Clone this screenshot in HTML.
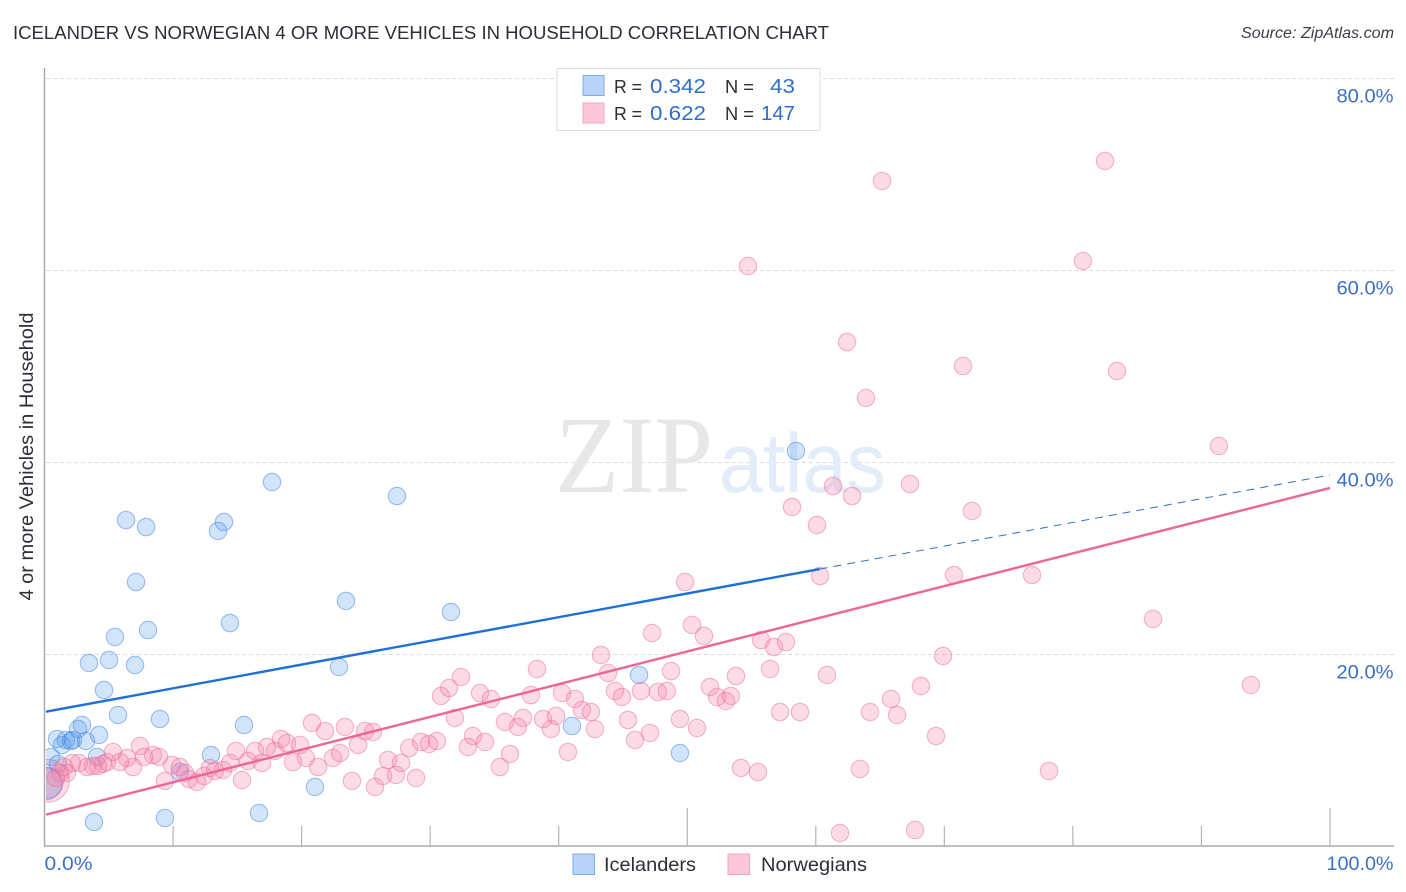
<!DOCTYPE html>
<html lang="en">
<head>
<meta charset="utf-8">
<title>Icelander vs Norwegian 4 or more vehicles in household correlation chart</title>
<style>
html,body{margin:0;padding:0;background:#fff;}
svg{display:block;}
text{font-family:"Liberation Sans",sans-serif;}
</style>
</head>
<body>
<svg id="chart" xmlns="http://www.w3.org/2000/svg" width="1406" height="892" viewBox="0 0 1406 892">
  <defs>
    <clipPath id="plot-clip"><rect x="46" y="60" width="1340" height="786"></rect></clipPath>
  </defs>
  <rect x="0" y="0" width="1406" height="892" fill="#ffffff"></rect>
  <text x="13" y="39" font-size="18.5" fill="#2b2f36" textLength="816" lengthAdjust="spacingAndGlyphs">ICELANDER VS NORWEGIAN 4 OR MORE VEHICLES IN HOUSEHOLD CORRELATION CHART</text>
  <text x="1394" y="38" font-size="15.5" font-style="italic" fill="#3a3f46" text-anchor="end" textLength="153" lengthAdjust="spacingAndGlyphs">Source: ZipAtlas.com</text>
  <g id="grid"></g>
  <text x="555" y="492" font-size="110" fill="#e7e7e7" textLength="158" lengthAdjust="spacingAndGlyphs" style="font-family:'Liberation Serif',serif">ZIP</text>
  <text x="719" y="492" font-size="84" fill="#e3ecf9" textLength="167" lengthAdjust="spacingAndGlyphs">atlas</text>
  <g id="points" clip-path="url(#plot-clip)"></g>
  <g id="trends"></g>
  <g id="axes"></g>
  <text transform="translate(33,456.5) rotate(-90)" font-size="19" fill="#2b2f36" text-anchor="middle" textLength="288" lengthAdjust="spacingAndGlyphs">4 or more Vehicles in Household</text>

  <g>
    <rect x="557" y="68.5" width="263" height="62" fill="#ffffff" stroke="#dcdcdc" stroke-width="1"></rect>
    <rect x="583" y="75.5" width="21" height="20" fill="#b9d3f8" stroke="#7fabe6" stroke-width="1"></rect>
    <rect x="583" y="103" width="21" height="20" fill="#fcc8d9" stroke="#f3a5bf" stroke-width="1"></rect>
    <text x="614" y="93" font-size="18.5" fill="#2b2f36" textLength="28" lengthAdjust="spacingAndGlyphs">R =</text>
    <text x="650" y="93" font-size="20" fill="#2f6fca" textLength="56" lengthAdjust="spacingAndGlyphs">0.342</text>
    <text x="725" y="93" font-size="18.5" fill="#2b2f36" textLength="29" lengthAdjust="spacingAndGlyphs">N =</text>
    <text x="795" y="93" font-size="20" fill="#2f6fca" text-anchor="end" textLength="25" lengthAdjust="spacingAndGlyphs">43</text>
    <text x="614" y="120" font-size="18.5" fill="#2b2f36" textLength="28" lengthAdjust="spacingAndGlyphs">R =</text>
    <text x="650" y="120" font-size="20" fill="#2f6fca" textLength="56" lengthAdjust="spacingAndGlyphs">0.622</text>
    <text x="725" y="120" font-size="18.5" fill="#2b2f36" textLength="29" lengthAdjust="spacingAndGlyphs">N =</text>
    <text x="795" y="120" font-size="20" fill="#2f6fca" text-anchor="end" textLength="34" lengthAdjust="spacingAndGlyphs">147</text>
  </g>

  <g>
    <rect x="573" y="854" width="21.5" height="20.5" fill="#b9d3f8" stroke="#7fabe6" stroke-width="1"></rect>
    <text x="604" y="871" font-size="19.5" fill="#2b2f36" textLength="92" lengthAdjust="spacingAndGlyphs">Icelanders</text>
    <rect x="728" y="854" width="21.5" height="20.5" fill="#fcc8d9" stroke="#f3a5bf" stroke-width="1"></rect>
    <text x="761" y="871" font-size="19.5" fill="#2b2f36" textLength="106" lengthAdjust="spacingAndGlyphs">Norwegians</text>
  </g>
</svg>
<script>
// Values (percent)
const icelanderX = [0.97,0.5,1.05,1.36,1.67,2.22,2.06,2.61,2.92,3.23,4.24,4.08,3.85,4.63,3.46,5.02,5.48,7.04,8.05,7.12,7.9,6.34,5.72,8.98,9.37,10.54,12.95,13.5,13.96,14.43,15.52,16.69,17.7,21.04,22.91,23.45,27.42,31.62,41.03,46.25,49.43,58.46];
const icelanderY = [11.25,9.38,8.65,10.63,11.15,11.15,11.04,12.29,12.71,11.04,11.67,9.38,2.6,16.35,19.17,19.48,21.88,18.96,22.6,27.6,33.33,34.06,13.75,13.33,3.02,7.81,9.58,32.92,33.85,23.33,12.71,3.54,38.02,6.25,18.75,25.63,36.56,24.48,12.6,17.92,9.79,41.25];
const norwegianX = [5.33,7.43,8.44,8.91,7.74,6.88,6.42,5.87,4.86,4.55,4.16,3.77,3.31,2.68,2.14,1.75,1.21,0.89,1.52,9.92,10.54,9.37,10.93,11.24,11.86,12.41,12.87,13.26,13.89,14.43,14.9,15.36,15.83,16.38,16.92,17.31,17.93,18.4,18.86,19.88,19.33,20.34,21.28,20.81,21.82,23.37,22.44,22.99,23.92,24.93,25.55,24.39,25.71,26.72,27.73,26.33,27.34,28.9,28.36,29.29,29.91,30.53,30.84,31.47,32.4,31.93,33.33,32.94,34.27,33.88,34.73,35.82,36.83,37.22,36.21,35.43,37.84,38.31,38.78,39.4,39.79,40.72,40.26,41.27,41.81,42.51,42.82,43.29,43.84,44.38,44.92,46.4,45.39,45.94,47.1,47.72,48.42,48.74,47.26,49.43,50.76,49.83,50.37,51.3,51.77,52.32,53.01,53.4,53.79,54.18,55.5,55.74,56.44,56.75,57.22,57.68,58.77,54.72,58.15,60.09,60.33,60.87,61.34,61.88,62.43,62.82,63.44,63.9,64.22,65.15,65.85,66.32,67.33,67.72,68.18,69.35,69.9,70.75,71.45,72.15,76.82,78.14,80.78,82.5,83.43,86.23,91.36,93.85];
const norwegianY = [9.9,10.52,9.58,9.38,9.38,8.33,9.27,8.85,8.85,8.65,8.44,8.44,8.33,8.75,8.75,7.71,7.71,7.19,8.33,8.54,8.33,6.88,7.71,7.08,6.77,7.4,8.23,7.92,8.02,8.75,10,6.98,8.96,10,8.75,10.42,10,11.25,10.83,10.63,8.85,9.27,8.33,12.92,12.08,12.5,9.27,9.79,6.88,12.08,11.98,10.63,6.25,9.06,8.75,7.4,7.5,7.19,10.31,10.94,10.73,11.04,15.73,16.56,17.71,13.44,11.56,10.42,10.94,16.04,15.42,13.02,12.5,13.44,9.69,8.33,15.83,18.54,13.33,12.29,13.65,9.9,16.04,15.42,14.27,14.06,12.29,20,18.13,16.25,15.63,16.25,13.23,11.15,11.88,16.15,16.25,18.33,22.29,13.33,12.4,27.6,23.13,21.98,16.67,15.63,15.21,15.73,17.81,8.23,7.81,21.56,18.54,20.83,14.06,21.35,14.06,60.52,35.42,33.54,28.23,17.92,37.6,1.46,52.6,36.56,8.13,46.77,14.06,69.38,15.42,13.75,37.81,1.77,16.77,11.56,19.9,28.33,50.1,35,28.33,7.92,61.04,71.46,49.58,23.75,41.77,16.88];
// Aggregated clusters near the origin: x, y and number of merged observations
const icelanderClusterX = [0.1];
const icelanderClusterY = [6.6];
const icelanderClusterCount = [3.4];
const norwegianClusterX = [0.28, 0.28];
const norwegianClusterY = [6.9, 6.7];
const norwegianClusterCount = [6, 3];
// Trend line values
const icelanderTrendX = [0, 60.3, 100];
const icelanderTrendY = [14.06, 28.95, 38.75];
const norwegianTrendX = [0, 100];
const norwegianTrendY = [3.33, 37.4];
// Ticks
const yTickValues = [20, 40, 60, 80];
const yTickLabels = ["20.0%", "40.0%", "60.0%", "80.0%"];
const xTickValues = [10, 20, 30, 40, 50, 60, 70, 80, 90, 100];
const xMajorTicks = [50, 100];
const xEndValues = [0, 100];
const xEndLabels = ["0.0%", "100.0%"];

const SVG_NS = "http://www.w3.org/2000/svg";
function xScale(v) { return 44.5 + v * 12.855; }
function yScale(v) { return 847 - v * 9.6; }
function radiusOf(count) { return 8.7 * Math.sqrt(count); }
function make(tag, parent, attrs) {
  const el = document.createElementNS(SVG_NS, tag);
  for (const k in attrs) el.setAttribute(k, attrs[k]);
  parent.appendChild(el);
  return el;
}

const gridG = document.getElementById("grid");
const axesG = document.getElementById("axes");
const pointsG = document.getElementById("points");
const trendsG = document.getElementById("trends");

yTickValues.forEach(function (v, i) {
  const line = make("line", gridG, { x1: 46, x2: 1394, y1: yScale(v) - 0.5, y2: yScale(v) - 0.5, stroke: "#dcdcdc", "stroke-width": 1, "stroke-dasharray": "4 3" });
  
  
  const label = make("text", axesG, { x: 1393.5, y: yScale(v) + 23.5, "font-size": 19.5, fill: "#3b6fc9", "text-anchor": "end", textLength: 57, lengthAdjust: "spacingAndGlyphs" });
  label.textContent = yTickLabels[i];
  
  
});

const yAxisLine = make("line", axesG, { x1: 44.5, x2: 44.5, y1: 68, y2: 846.5, stroke: "#aaaaaa", "stroke-width": 1.5 });


const xAxisLine = make("line", axesG, { x1: 44, x2: 1394, y1: 846, y2: 846, stroke: "#aaaaaa", "stroke-width": 1.5 });



xTickValues.forEach(function (v) {
  const major = xMajorTicks.indexOf(v) >= 0;
  const tick = make("line", axesG, { x1: xScale(v), x2: xScale(v), y1: major ? 808 : 826, y2: 846, stroke: "#b4b4b4", "stroke-width": 1.2 });
  
  
});

xEndValues.forEach(function (v, i) {
  const first = i === 0;
  const label = make("text", axesG, {
    x: first ? xScale(v) : 1393.5, y: 870, "font-size": 19.5, fill: "#3b6fc9",
    "text-anchor": first ? "start" : "end", textLength: first ? 48 : 67, lengthAdjust: "spacingAndGlyphs"
  });
  label.textContent = xEndLabels[i];
  
  
});

function drawSeries(xs, ys, counts, fill, fillOpacity, stroke, name) {
  xs.forEach(function (x, i) {
    const c = make("circle", pointsG, {
      cx: xScale(x), cy: yScale(ys[i]), r: radiusOf(counts ? counts[i] : 1),
      fill: fill, "fill-opacity": fillOpacity, stroke: stroke, "stroke-opacity": 0.5, "stroke-width": 1.1
    });
    
    
  });
}
drawSeries(norwegianClusterX, norwegianClusterY, norwegianClusterCount, "#f77fa6", 0.28, "#ea6f98", "norwegian-cluster-point");
drawSeries(icelanderClusterX, icelanderClusterY, icelanderClusterCount, "#4d94ec", 0.25, "#3f86e2", "icelander-cluster-point");
drawSeries(icelanderX, icelanderY, null, "#4d94ec", 0.25, "#3f86e2", "icelander-point");
drawSeries(norwegianX, norwegianY, null, "#f77fa6", 0.28, "#ea6f98", "norwegian-point");

const blueSolid = make("line", trendsG, {
  x1: xScale(icelanderTrendX[0]) + 1.5, y1: yScale(icelanderTrendY[0]) - 0.3,
  x2: xScale(icelanderTrendX[1]), y2: yScale(icelanderTrendY[1]),
  stroke: "#1f6fd8", "stroke-width": 2.4
});


const blueDash = make("line", trendsG, {
  x1: xScale(icelanderTrendX[1]), y1: yScale(icelanderTrendY[1]),
  x2: xScale(icelanderTrendX[2]), y2: yScale(icelanderTrendY[2]),
  stroke: "#2f6fc4", "stroke-width": 1, "stroke-dasharray": "8 6"
});


const pinkLine = make("line", trendsG, {
  x1: xScale(norwegianTrendX[0]) + 1.5, y1: yScale(norwegianTrendY[0]) - 0.4,
  x2: xScale(norwegianTrendX[1]), y2: yScale(norwegianTrendY[1]),
  stroke: "#ee6696", "stroke-width": 2.4
});


</script>
</body>
</html>
